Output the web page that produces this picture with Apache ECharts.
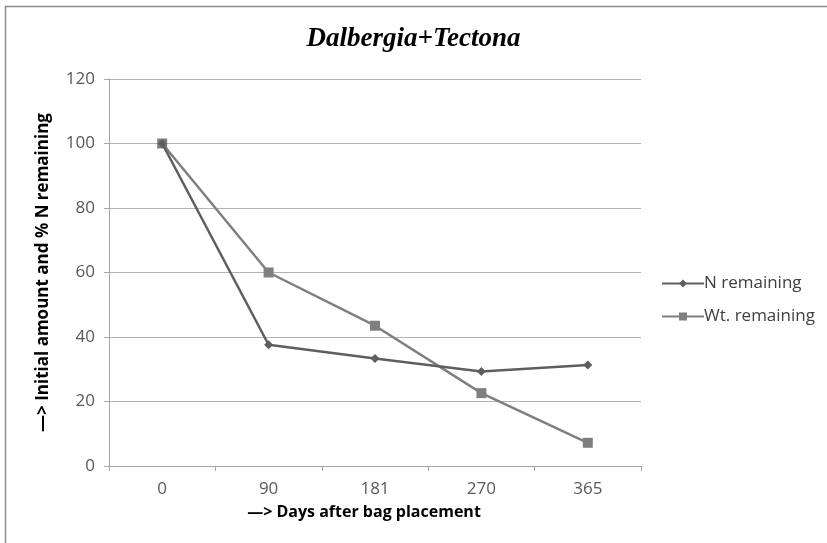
<!DOCTYPE html>
<html>
<head>
<meta charset="utf-8">
<script src="https://cdn.jsdelivr.net/npm/echarts@6/dist/echarts.min.js"></script>
<style>
  html, body { margin: 0; padding: 0; background: #ffffff; }
  #chart { width: 827px; height: 543px; }
</style>
</head>
<body>
<div id="chart"></div>
<script>
// Days after litter bag placement
const days = ['0', '90', '181', '270', '365'];
// Percentage of initial N remaining
const nRemaining = [100, 37.6, 33.3, 29.3, 31.3];
// Percentage of initial weight remaining
const wtRemaining = [100, 60, 43.5, 22.6, 7.2];
// Value axis ticks
const yTicks = [0, 20, 40, 60, 80, 100, 120];

const chart = echarts.init(document.getElementById('chart'), null, { renderer: 'canvas' });

const labelFont = '"Open Sans", "Liberation Sans", sans-serif';

chart.setOption({
  backgroundColor: '#ffffff',
  animation: false,
  title: {
    text: 'Dalbergia+Tectona',
    left: 'center',
    top: 21,
    textStyle: {
      fontFamily: '"Liberation Serif", "DejaVu Serif", serif',
      fontStyle: 'italic',
      fontWeight: 'bold',
      fontSize: 27,
      color: '#000000'
    }
  },
  grid: { left: 109, right: 186, top: 79, bottom: 77 },
  legend: {
    orient: 'vertical',
    left: 656,
    top: 270,
    itemGap: 16,
    itemWidth: 42,
    itemHeight: 10,
    textStyle: { fontFamily: labelFont, fontSize: 17, color: '#404040', padding: [0, 0, 0, -5] },
    data: ['N remaining', 'Wt. remaining']
  },
  xAxis: {
    type: 'category',
    data: days,
    boundaryGap: true,
    name: '—> Days after bag placement',
    nameLocation: 'middle',
    nameGap: 38,
    nameTextStyle: { fontFamily: labelFont, fontWeight: 'bold', fontSize: 16, color: '#000000', padding: [0, 0, 0, -22] },
    axisLine: { lineStyle: { color: '#a6a6a6', width: 1 } },
    axisTick: { show: true, length: 5, lineStyle: { color: '#a6a6a6' } },
    axisLabel: { fontFamily: labelFont, fontSize: 17, color: '#595959', margin: 15 },
    splitLine: { show: false }
  },
  yAxis: {
    type: 'value',
    min: yTicks[0],
    max: yTicks[yTicks.length - 1],
    interval: 20,
    name: '—> Initial amount and % N remaining',
    nameLocation: 'middle',
    nameGap: 57,
    nameRotate: 90,
    nameTextStyle: { fontFamily: labelFont, fontWeight: 'bold', fontSize: 17, color: '#000000' },
    axisLine: { show: true, lineStyle: { color: '#a6a6a6', width: 1 } },
    axisTick: { show: true, length: 5, lineStyle: { color: '#a6a6a6' } },
    axisLabel: { fontFamily: labelFont, fontSize: 17, color: '#595959', margin: 14 },
    splitLine: { show: true, lineStyle: { color: '#b3b3b3', width: 1 } }
  },
  series: [
    {
      name: 'N remaining',
      type: 'line',
      data: nRemaining,
      symbol: 'diamond',
      symbolSize: 9,
      lineStyle: { color: '#5e5e5e', width: 2.5 },
      itemStyle: { color: '#5e5e5e' },
      z: 3
    },
    {
      name: 'Wt. remaining',
      type: 'line',
      data: wtRemaining,
      symbol: 'rect',
      symbolSize: 10,
      lineStyle: { color: '#7f7f7f', width: 2.5 },
      itemStyle: { color: '#7f7f7f' },
      z: 2
    }
  ],
  graphic: [
    {
      type: 'polyline',
      shape: { points: [[5.5, 543], [5.5, 6.5], [827, 6.5]] },
      style: { stroke: '#8c8c8c', lineWidth: 1.5, fill: null },
      silent: true
    }
  ]
});
</script>
</body>
</html>
